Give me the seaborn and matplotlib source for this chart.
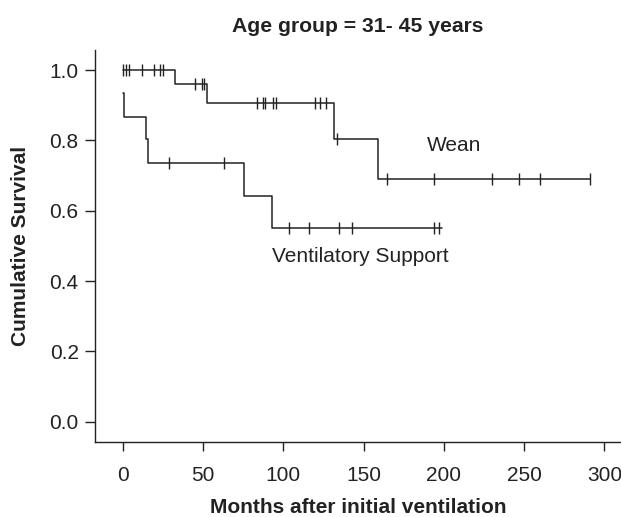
import numpy as np
import matplotlib
matplotlib.use("Agg")
import matplotlib.pyplot as plt
import seaborn as sns

# Kaplan-Meier steps
wean_time = [0, 32.8, 52.7, 131.8, 158.8, 291]
wean_surv = [1.0, 0.959, 0.905, 0.804, 0.689, 0.689]
vent_time = [0, 1.0, 14.7, 15.9, 75.7, 93.0, 199]
vent_surv = [0.935, 0.867, 0.803, 0.735, 0.643, 0.551, 0.551]

# censored observations (time, survival level)
wean_cens_time = [0.4, 2.1, 3.9, 11.8, 19.7, 23.4, 24.9,
                  45.0, 49.6, 50.6,
                  83.4, 87.5, 88.6, 93.4, 95.5, 119.7, 122.9, 126.6,
                  133.6,
                  164.8, 193.8, 229.8, 246.8, 259.8, 290.9]
wean_cens_surv = [1.0] * 7 + [0.959] * 3 + [0.905] * 8 + [0.804] + [0.689] * 6
vent_cens_time = [28.8, 63.1, 103.7, 116.0, 134.7, 142.8, 193.8, 197.0]
vent_cens_surv = [0.735] * 2 + [0.551] * 6

x_ticks = [0, 50, 100, 150, 200, 250, 300]
y_ticks = [0.0, 0.2, 0.4, 0.6, 0.8, 1.0]

sns.set_style("ticks")
plt.rcParams["font.family"] = ["Liberation Sans", "DejaVu Sans"]
ink = "#222222"

fig = plt.figure(figsize=(6.21, 5.17), dpi=100)
ax = fig.add_axes([95.3 / 621, 1 - 441.7 / 517, 1 - 95.3 / 621, (441.7 - 50) / 517])

for t, s in [(wean_time, wean_surv), (vent_time, vent_surv)]:
    sns.lineplot(x=t, y=s, drawstyle="steps-post", estimator=None, sort=False,
                 color=ink, linewidth=1.1, ax=ax)
for t, s in [(wean_cens_time, wean_cens_surv), (vent_cens_time, vent_cens_surv)]:
    sns.scatterplot(x=t, y=s, marker="|", s=70, color=ink, linewidth=1.0, ax=ax)

ax.text(206.6, 0.785, "Wean", ha="center", va="center", fontsize=15, color=ink)
ax.text(148, 0.469, "Ventilatory Support", ha="center", va="center", fontsize=15, color=ink)

ax.set_xlim(-17.1, 310.3)
ax.set_ylim(-0.0566, 1.057)
ax.set_xticks(x_ticks)
ax.set_yticks(y_ticks)
ax.set_yticklabels([f"{v:.1f}" for v in y_ticks])
ax.tick_params(axis="both", width=1.0, color=ink, labelcolor=ink, labelsize=15)
ax.tick_params(axis="x", length=6.5, pad=11)
ax.tick_params(axis="y", length=7, pad=5)
sns.despine(ax=ax)
for sp in ("left", "bottom"):
    ax.spines[sp].set_color(ink)
    ax.spines[sp].set_linewidth(1.0)

ax.set_xlabel("Months after initial ventilation", fontsize=15, fontweight="bold",
              color=ink, labelpad=9)
ax.set_ylabel("Cumulative Survival", fontsize=15, fontweight="bold",
              color=ink, labelpad=14)
ax.set_title("Age group = 31- 45 years", fontsize=15.2, fontweight="bold",
             color=ink, pad=13)

fig.savefig("out.png", dpi=100)
